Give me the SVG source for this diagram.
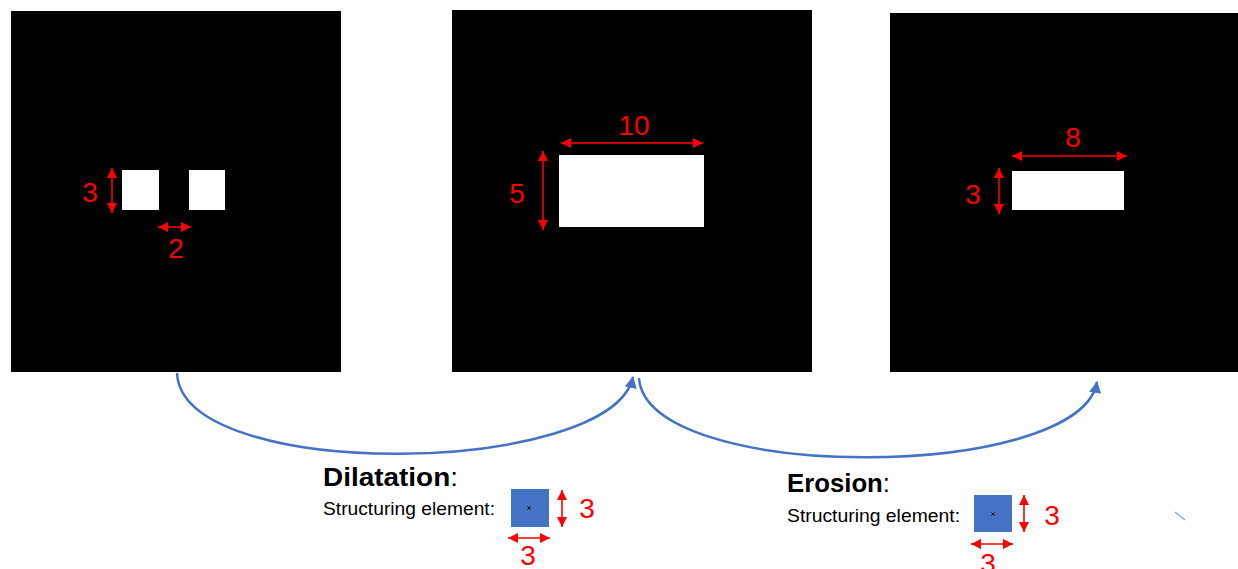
<svg xmlns="http://www.w3.org/2000/svg" width="1238" height="569" viewBox="0 0 1238 569">
<style>
.panel{fill:#000000}
.shape{fill:#FFFFFF}
.dim{stroke:#FF0000;stroke-width:1.6;fill:none;marker-start:url(#ra);marker-end:url(#ra)}
.num{font-family:"Liberation Sans",Arial,sans-serif;font-size:28px;fill:#FF0000;text-anchor:middle}
.title{font-family:"Liberation Sans",Arial,sans-serif;font-size:26px;font-weight:bold;fill:#000000}
.sub{font-family:"Liberation Sans",Arial,sans-serif;font-size:18px;fill:#000000}
.se{fill:#4472C4}
.cm{stroke:#000000;stroke-width:1}
.conn{stroke:#4472C4;stroke-width:2.5;fill:none;marker-end:url(#ba)}
</style>
<defs>
<marker id="ra" markerUnits="userSpaceOnUse" markerWidth="10" markerHeight="10" refX="10" refY="5" orient="auto-start-reverse" viewBox="0 0 10 10">
<path d="M0,0 L10,5 L0,10 z" fill="#FF0000"/>
</marker>
<marker id="ba" markerUnits="userSpaceOnUse" markerWidth="12" markerHeight="12" refX="11" refY="6" orient="auto" viewBox="0 0 12 12">
<path d="M0,0 L12,6 L0,12 z" fill="#4472C4"/>
</marker>
</defs>
<rect width="1238" height="569" fill="#FFFFFF"/>

<g id="panel-input">
<rect class="panel" x="11" y="11" width="330" height="361"/>
<rect class="shape" x="122" y="170" width="37" height="40"/>
<rect class="shape" x="189" y="170" width="36" height="40"/>
<line class="dim" x1="112" y1="168" x2="112" y2="213"/>
<text class="num" x="90" y="202">3</text>
<line class="dim" x1="158" y1="227" x2="191" y2="227"/>
<text class="num" x="176" y="258">2</text>
</g>

<g id="panel-dilated">
<rect class="panel" x="452" y="10" width="360" height="362"/>
<rect class="shape" x="559" y="155" width="145" height="72"/>
<line class="dim" x1="561" y1="143" x2="703" y2="143"/>
<text class="num" x="634" y="135">10</text>
<line class="dim" x1="543" y1="151" x2="543" y2="230"/>
<text class="num" x="517" y="203">5</text>
</g>

<g id="panel-eroded">
<rect class="panel" x="890" y="13" width="348" height="359"/>
<rect class="shape" x="1012" y="171" width="112" height="39"/>
<line class="dim" x1="1012" y1="156" x2="1127" y2="156"/>
<text class="num" x="1073" y="147">8</text>
<line class="dim" x1="999" y1="168" x2="999" y2="214"/>
<text class="num" x="973" y="204">3</text>
</g>

<g id="connectors">
<path class="conn" d="M177,373 C182,484 612,476 633,377"/>
<path class="conn" d="M639,378 C646,484 1080,482 1097,382"/>
</g>

<g id="label-dilatation">
<text class="title" x="323" y="486" textLength="135" lengthAdjust="spacingAndGlyphs">Dilatation<tspan font-weight="normal">:</tspan></text>
<text class="sub" x="323" y="515" textLength="172" lengthAdjust="spacingAndGlyphs">Structuring element:</text>
<rect class="se" x="511" y="489" width="38" height="38"/>
<path class="cm" d="M527.5,506.5 L530.5,509.5 M530.5,506.5 L527.5,509.5"/>
<line class="dim" x1="562" y1="490" x2="562" y2="527"/>
<text class="num" x="587" y="518">3</text>
<line class="dim" x1="508" y1="538" x2="550" y2="538"/>
<text class="num" x="528" y="565">3</text>
</g>

<g id="label-erosion">
<text class="title" x="787" y="492" textLength="103" lengthAdjust="spacingAndGlyphs">Erosion<tspan font-weight="normal">:</tspan></text>
<text class="sub" x="787" y="522" textLength="173" lengthAdjust="spacingAndGlyphs">Structuring element:</text>
<rect class="se" x="974" y="495" width="38" height="37"/>
<path class="cm" d="M991.5,512.5 L994.5,515.5 M994.5,512.5 L991.5,515.5"/>
<line class="dim" x1="1024" y1="495" x2="1024" y2="532"/>
<text class="num" x="1052" y="525">3</text>
<line class="dim" x1="971" y1="544" x2="1013" y2="544"/>
<text class="num" x="988" y="573">3</text>
</g>

<line x1="1175" y1="512" x2="1185" y2="520" stroke="#7FA0DA" stroke-width="1.2"/>
</svg>
